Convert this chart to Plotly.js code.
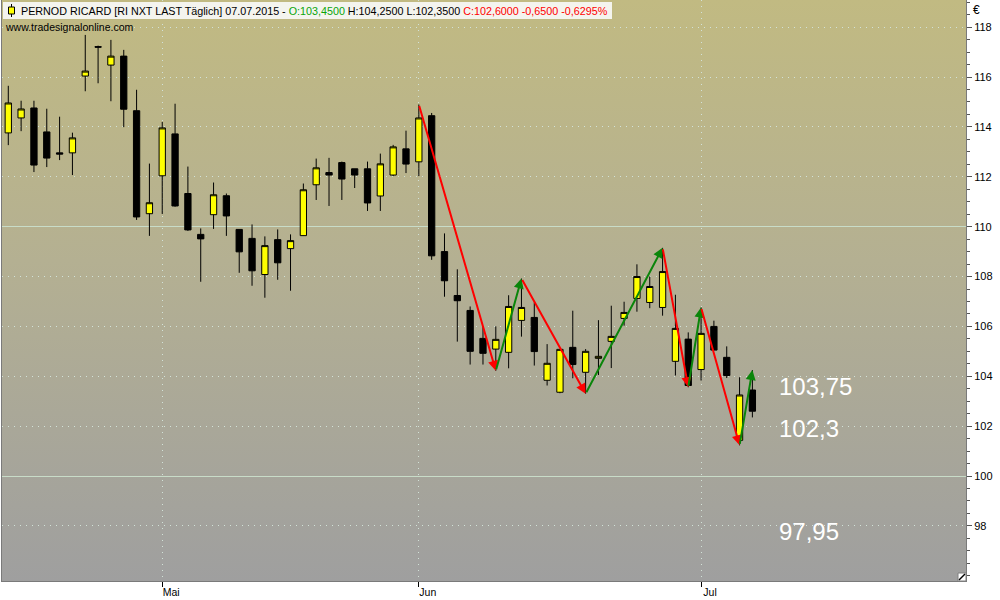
<!DOCTYPE html>
<html><head><meta charset="utf-8">
<script src="https://cdn.plot.ly/plotly-3.0.1.min.js"></script>
<style>
html,body{margin:0;padding:0;background:#fff;}
#wrap{position:relative;width:1000px;height:600px;overflow:hidden;}
#bg{position:absolute;left:2px;top:0;width:964px;height:581px;background:linear-gradient(to bottom,#c1ba82 0%,#b4b092 45%,#9f9f9f 100%);}
#chart{position:absolute;left:0;top:0;width:1000px;height:600px;}
</style></head><body>
<div id="wrap"><div id="bg"></div><div id="chart"></div></div>
<script>
// ---- data ----
const dates = [
 '2015-04-15','2015-04-16','2015-04-17','2015-04-20','2015-04-21','2015-04-22','2015-04-23','2015-04-24','2015-04-27','2015-04-28','2015-04-29','2015-04-30',
 '2015-05-04','2015-05-05','2015-05-06','2015-05-07','2015-05-08','2015-05-11','2015-05-12','2015-05-13','2015-05-14','2015-05-15','2015-05-18','2015-05-19','2015-05-20','2015-05-21','2015-05-22','2015-05-25','2015-05-26','2015-05-27','2015-05-28','2015-05-29',
 '2015-06-01','2015-06-02','2015-06-03','2015-06-04','2015-06-05','2015-06-08','2015-06-09','2015-06-10','2015-06-11','2015-06-12','2015-06-15','2015-06-16','2015-06-17','2015-06-18','2015-06-19','2015-06-22','2015-06-23','2015-06-24','2015-06-25','2015-06-26','2015-06-29','2015-06-30',
 '2015-07-01','2015-07-02','2015-07-03','2015-07-06','2015-07-07'];
const openP = [113.76,114.36,114.76,113.80,112.96,112.96,116.04,117.22,116.48,116.84,114.65,110.52,
 112.04,113.72,111.33,109.69,110.48,111.24,109.89,109.53,108.08,109.48,109.12,109.64,111.68,112.17,112.57,112.32,112.32,111.23,112.07,113.12,
 112.60,114.45,109.00,107.24,106.64,105.52,105.09,104.96,106.24,106.36,103.84,103.36,105.16,104.16,104.72,105.40,106.32,107.12,106.96,106.76,104.60,105.49,
 104.27,106.00,104.76,101.43,103.45];
const highP = [115.65,115.05,115.05,114.73,114.41,113.77,117.69,117.26,117.49,117.09,115.49,112.53,
 114.20,114.93,112.41,109.93,111.77,111.33,109.89,110.09,109.61,109.89,109.69,111.73,112.73,112.76,112.61,112.32,112.61,112.93,113.28,113.85,
 114.90,114.56,109.73,108.29,106.80,106.00,106.00,107.25,107.92,106.96,105.29,105.09,106.63,105.09,106.25,106.83,106.99,108.49,108.00,109.15,107.27,105.76,
 106.76,106.23,105.20,103.96,104.25];
const lowP = [113.27,113.83,112.19,112.39,112.67,112.07,115.43,115.75,115.03,113.99,110.27,109.63,
 110.51,110.80,109.83,107.79,109.91,109.63,108.15,107.63,107.15,107.87,107.43,109.63,111.07,110.83,111.07,111.55,110.63,110.63,112.03,112.15,
 112.03,108.67,107.19,105.39,104.47,104.47,104.22,104.32,105.59,104.43,103.63,103.32,103.92,103.30,104.05,104.33,106.03,106.59,106.73,106.43,104.03,103.56,
 103.83,105.05,103.93,101.23,102.35];
const closeP = [114.96,114.72,112.47,112.75,112.91,113.56,116.24,117.20,116.84,114.71,110.39,110.96,
 113.96,110.83,109.87,109.51,111.28,110.43,108.99,108.23,109.24,108.55,109.44,111.48,112.36,112.07,111.91,112.07,110.95,112.52,113.20,112.51,
 114.36,108.83,107.83,107.03,105.00,104.92,105.48,106.80,106.76,104.99,104.52,105.08,104.47,105.00,104.80,105.60,106.56,108.00,107.60,108.20,105.92,103.63,
 105.72,105.05,104.03,103.25,102.60];
// zigzag turning points (index into dates, price)
const zigIndex = [32, 38, 40, 45, 51, 53, 54, 57, 58];
const zigPrice = [114.90, 104.22, 107.92, 103.30, 109.15, 103.56, 106.76, 101.23, 104.25];
// price target levels
const levels = [103.75, 102.3, 97.95];
const monthLabels = ['Jan','Feb','Mär','Apr','Mai','Jun','Jul','Aug','Sep','Okt','Nov','Dez'];
const yTickLabels = [98,100,102,104,106,108,110,112,114,116,118];
const instrument = 'PERNOD RICARD [RI NXT LAST Täglich]';

// ---- build ----
const xi = dates.map((d,i)=>i);
const tickVals = [], tickText = [];
for (let i=1;i<dates.length;i++){
  if (dates[i].slice(5,7)!==dates[i-1].slice(5,7)){ tickVals.push(i); tickText.push(monthLabels[parseInt(dates[i].slice(5,7),10)-1]); }
}
const FONT = '"Liberation Sans", Arial, sans-serif';
const fmt = (v,d)=> v.toFixed(d).replace('.',',');
const n = dates.length-1;
const chg = closeP[n]-closeP[n-1];
const pct = chg/closeP[n-1]*100;
const dd = dates[n].split('-');
const header = instrument+' '+dd[2]+'.'+dd[1]+'.'+dd[0]+' - '+
  '<span style="color:#0aa50a">O:'+fmt(openP[n],4)+'</span> H:'+fmt(highP[n],4)+' L:'+fmt(lowP[n],4)+' '+
  '<span style="color:#ff0000">C:'+fmt(closeP[n],4)+' '+fmt(chg,4)+' '+fmt(pct,4)+'%</span>';

const traces = [
 {type:'candlestick', x:xi, open:openP, high:highP, low:lowP, close:closeP,
  increasing:{line:{color:'#000000',width:1}, fillcolor:'#ffff00'},
  decreasing:{line:{color:'#000000',width:1}, fillcolor:'#000000'},
  whiskerwidth:0, hoverinfo:'skip', showlegend:false},
 {type:'scatter', x:[], y:[], yaxis:'y2', showlegend:false, hoverinfo:'skip'}
];

const ann = [];
for (let i=1;i<zigIndex.length;i++){
  const down = zigPrice[i]<zigPrice[i-1];
  ann.push({x:zigIndex[i], y:zigPrice[i], ax:zigIndex[i-1], ay:zigPrice[i-1], xref:'x', yref:'y', axref:'x', ayref:'y',
    text:'', showarrow:true, arrowhead:2, arrowsize:1, arrowwidth:2, standoff:0, startstandoff:0,
    arrowcolor: down ? '#ff0000' : '#0a850a'});
}
const levelShift = [-4,-10,-4];
levels.forEach((v,i)=>{
  ann.push({x:dates.length+1, y:v, xref:'x', yref:'y', xanchor:'left', yanchor:'middle', yshift:levelShift[i], xshift:-1,
    text: String(v).replace('.',','), showarrow:false, font:{family:FONT,size:24,color:'#ffffff'}});
});
ann.push({xref:'paper', yref:'paper', x:0, y:1, xanchor:'left', yanchor:'top', xshift:17, yshift:-3,
  text:header, showarrow:false, font:{family:FONT,size:10.75,color:'#000000'}});
ann.push({xref:'paper', yref:'paper', x:0, y:1, xanchor:'left', yanchor:'top', xshift:1, yshift:-19,
  text:'www.tradesignalonline.com', showarrow:false, font:{family:FONT,size:10.5,color:'#000000'}});
ann.push({xref:'paper', yref:'paper', x:1, y:1, xanchor:'left', yanchor:'top', xshift:5, yshift:-1,
  text:'€', showarrow:false, font:{family:FONT,size:12,color:'#000000'}});

const shapes = [
 {type:'rect', xref:'paper', yref:'paper', xsizemode:'pixel', ysizemode:'pixel', xanchor:0, yanchor:1,
  x0:1, x1:610, y0:-2, y1:-19, fillcolor:'#f4f4ee', line:{width:0}, layer:'above'},
 {type:'line', xref:'paper', yref:'paper', xsizemode:'pixel', ysizemode:'pixel', xanchor:0, yanchor:1,
  x0:9.5, x1:9.5, y0:-4, y1:-17, line:{color:'#000',width:1}, layer:'above'},
 {type:'rect', xref:'paper', yref:'paper', xsizemode:'pixel', ysizemode:'pixel', xanchor:0, yanchor:1,
  x0:6.5, x1:12.5, y0:-7, y1:-14, fillcolor:'#ffff00', line:{color:'#000',width:1}, layer:'above'},
 {type:'rect', xref:'paper', yref:'paper', xsizemode:'pixel', ysizemode:'pixel', xanchor:1, yanchor:0,
  x0:-8, x1:0, y0:0, y1:8, fillcolor:'#ffffff', line:{color:'#808080',width:1}, layer:'above'},
 {type:'line', xref:'paper', yref:'paper', xsizemode:'pixel', ysizemode:'pixel', xanchor:1, yanchor:0,
  x0:-7, x1:-1, y0:1, y1:7, line:{color:'#000',width:1.5}, layer:'above'}
];

const yr = [95.79, 119.09];
const layout = {
  width:1000, height:600,
  margin:{l:2, r:34, t:0, b:19, pad:0},
  paper_bgcolor:'rgba(0,0,0,0)', plot_bgcolor:'rgba(0,0,0,0)',
  showlegend:false, dragmode:false,
  font:{family:FONT, size:11, color:'#000'},
  xaxis:{type:'linear', range:[-0.49, 74.65], tickvals:tickVals, ticktext:tickText,
    ticks:'outside', ticklen:5, tickcolor:'#000', ticklabelshift:9, ticklabelstandoff:-4,
    showgrid:true, gridcolor:'#d2e2d8', griddash:'1px,5px', gridwidth:1,
    showline:true, linecolor:'#7a7a7a', linewidth:1, zeroline:false,
    rangeslider:{visible:false}, fixedrange:true,
    tickfont:{family:FONT,size:10.5,color:'#000'}},
  yaxis:{side:'right', range:yr, tickmode:'array', tickvals:yTickLabels, ticktext:yTickLabels.map(String),
    ticks:'outside', ticklen:5, tickcolor:'#555',
    minor:{dtick:0.5, tick0:0, ticks:'outside', ticklen:3, tickcolor:'#555', showgrid:false},
    showgrid:true, gridcolor:'#d2e2d8', griddash:'1px,5px', gridwidth:1,
    showline:true, mirror:true, linecolor:'#7a7a7a', linewidth:1, zeroline:false, fixedrange:true,
    tickfont:{family:FONT,size:11,color:'#000'}},
  yaxis2:{overlaying:'y', side:'right', range:yr, dtick:10, tick0:0, showticklabels:false, ticks:'',
    showgrid:true, gridcolor:'#c8dcc8', gridwidth:1, zeroline:false, showline:false, fixedrange:true},
  annotations:ann, shapes:shapes
};
Plotly.newPlot('chart', traces, layout, {displayModeBar:false, staticPlot:true});
</script></body></html>
